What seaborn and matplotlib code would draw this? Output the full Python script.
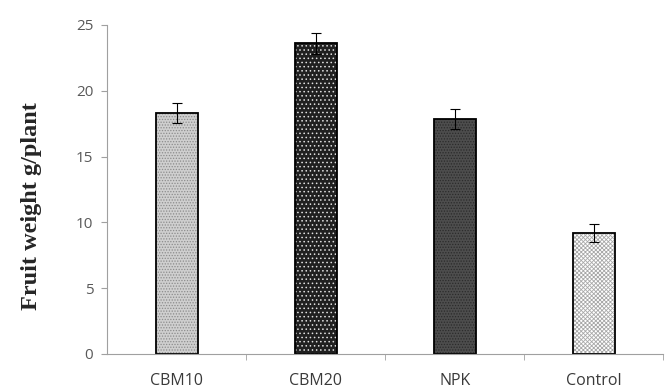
import matplotlib
matplotlib.use("Agg")
import matplotlib.pyplot as plt
import seaborn as sns
import pandas as pd

# --- Data ---
treatments = ["CBM10", "CBM20", "NPK", "Control"]
fruit_weight = [18.3, 23.6, 17.85, 9.2]
error = [0.75, 0.8, 0.75, 0.7]

# --- Bar styles (fill, hatch, hatch colour) ---
face_colors = ["#cfcfcf", "#202020", "#4d4d4d", "#ffffff"]
hatches = ["......", "....", "......", "xxxxxxxx"]
hatch_colors = ["#8c8c8c", "#e0e0e0", "#2b2b2b", "#a8a8a8"]

df = pd.DataFrame({"Treatment": treatments, "Fruit weight": fruit_weight})

sns.set_style("white")
plt.rcParams["hatch.linewidth"] = 0.6

fig = plt.figure(figsize=(6.7, 3.89), dpi=100)
ax = fig.add_axes([0.16, 0.09, 0.83, 0.846])

# hatched fill (hatch colour follows edgecolor)
sns.barplot(data=df, x="Treatment", y="Fruit weight", width=0.3, ax=ax,
            color="white", linewidth=0)
for patch, fc, h, hc in zip(ax.patches, face_colors, hatches, hatch_colors):
    patch.set_facecolor(fc)
    patch.set_hatch(h)
    patch.set_edgecolor(hc)
    patch.set_linewidth(0)

# black outlines on top
sns.barplot(data=df, x="Treatment", y="Fruit weight", width=0.3, ax=ax,
            fill=False, edgecolor="black", linewidth=1.3)

ax.errorbar(treatments, fruit_weight, yerr=error, fmt="none",
            ecolor="black", elinewidth=0.8, capsize=3.5, capthick=0.8)

# --- Axes styling ---
ax.set_ylim(0, 25)
ax.set_xlim(-0.5, 3.5)
ax.set_yticks([0, 5, 10, 15, 20, 25])
ax.set_xticks([0.5, 1.5, 2.5, 3.5], minor=True)
ax.tick_params(axis="x", which="major", length=0, labelsize=11.5, colors="#3a3a3a", pad=14)
ax.tick_params(axis="x", which="minor", length=4, direction="out", color="#a0a0a0", bottom=True)
ax.tick_params(axis="y", length=4, direction="out", color="#a0a0a0", labelsize=11,
               labelcolor="#595959", left=True, pad=6)
for lbl in ax.get_xticklabels() + ax.get_yticklabels():
    lbl.set_fontfamily("Open Sans")

for side in ["top", "right"]:
    ax.spines[side].set_visible(False)
ax.spines["left"].set_color("#a0a0a0")
ax.spines["bottom"].set_color("#a0a0a0")

ax.set_xlabel("")
ax.set_ylabel("Fruit weight g/plant", fontfamily="Liberation Serif",
              fontweight="bold", fontsize=17.5)
ax.yaxis.set_label_coords(-0.117, 0.45)

fig.savefig("out.png", dpi=100)
plt.close(fig)
